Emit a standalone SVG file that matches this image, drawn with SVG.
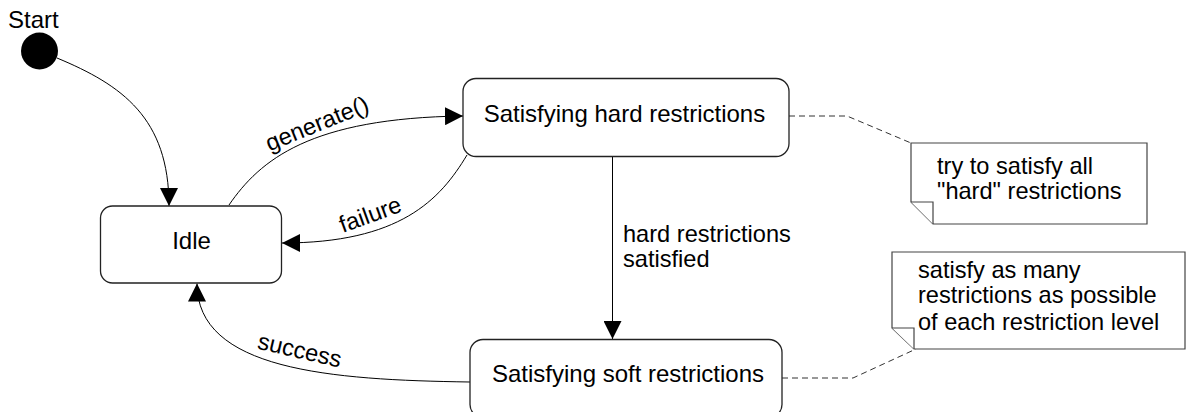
<svg xmlns="http://www.w3.org/2000/svg" width="1186" height="412" viewBox="0 0 1186 412">
<defs>
<style>
text{font-family:"Liberation Sans",Arial,sans-serif;font-size:23.6px;fill:#000}
.big{font-size:24px}
.state{fill:#fff;stroke:#222;stroke-width:1.3}
.conn{fill:none;stroke:#000;stroke-width:1}
.dash{fill:none;stroke:#333;stroke-width:1;stroke-dasharray:6 4}
.note{fill:#fff;stroke:#444;stroke-width:1.2}
.mid{text-anchor:middle}
</style>
<marker id="arr" viewBox="0 0 18 18" refX="18" refY="9" markerWidth="18" markerHeight="18" markerUnits="userSpaceOnUse" orient="auto">
<path d="M0,0 L18,9 L0,18 Z" fill="#000"/>
</marker>
</defs>
<rect width="1186" height="412" fill="#fff"/>
<g id="connectors">
<path class="conn" d="M57,58 C122,85 169,118 169,206" marker-end="url(#arr)"/>
<path class="conn" d="M229,205 C260,160 310,118 463,116" marker-end="url(#arr)"/>
<path class="conn" d="M467,155 C440,200 400,243 282,243" marker-end="url(#arr)"/>
<path class="conn" d="M612.5,156.5 V339" marker-end="url(#arr)"/>
<path class="conn" d="M470,382 C330,380 197,370 197,283.5" marker-end="url(#arr)"/>
<path class="dash" d="M789,116 H847 L911,143"/>
<path class="dash" d="M782,378 H853 L916,349"/>
<text transform="translate(320,131) rotate(-22)" class="mid">generate()</text>
<text transform="translate(373,222) rotate(-20)" class="mid">failure</text>
<text transform="translate(298,358) rotate(13)" class="mid">success</text>
<text x="623" y="242">hard restrictions</text>
<text x="623" y="267">satisfied</text>
</g>
<g id="start">
<circle cx="39.5" cy="51" r="18.5" fill="#000"/>
<text x="8" y="28" class="big">Start</text>
</g>
<g id="idle">
<rect class="state" x="100.5" y="206" width="181" height="77" rx="12"/>
<text x="191.5" y="249" class="mid big">Idle</text>
</g>
<g id="hard">
<rect class="state" x="463" y="78.5" width="326" height="78" rx="13"/>
<text x="624.5" y="122" class="mid big">Satisfying hard restrictions</text>
</g>
<g id="soft">
<rect class="state" x="470" y="339.5" width="312" height="78" rx="13"/>
<text x="628" y="382" class="mid big">Satisfying soft restrictions</text>
</g>
<g id="note1">
<path class="note" d="M911,143 H1147 V224 H933 L911,202 Z"/>
<path class="note" d="M911,202 H933 V224" fill="none"/>
<text x="937" y="174">try to satisfy all</text>
<text x="937" y="199">"hard" restrictions</text>
</g>
<g id="note2">
<path class="note" d="M892,252 H1185 V349 H914 L892,328 Z"/>
<path class="note" d="M892,328 H914 V349" fill="none"/>
<text x="918" y="278">satisfy as many</text>
<text x="918" y="303">restrictions as possible</text>
<text x="918" y="330">of each restriction level</text>
</g>
</svg>
